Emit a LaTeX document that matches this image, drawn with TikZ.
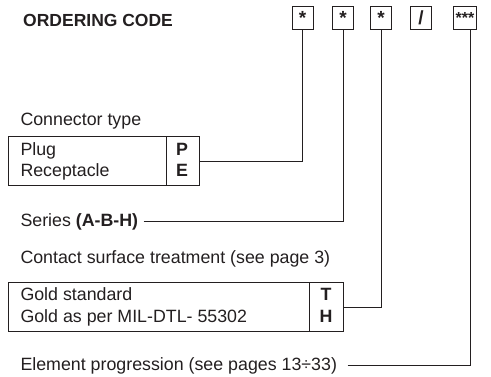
\documentclass[tikz,border=0pt]{standalone}
\usepackage{fontspec}
\setmainfont{Liberation Sans}
\usetikzlibrary{positioning}
\definecolor{ink}{HTML}{231F20}

\begin{document}
\begin{tikzpicture}[x=1pt, y=-1pt, line width=1pt, draw=ink,
		every node/.style={inner sep=0pt, text=ink},
		lbl/.style={font=\fontsize{17.8}{21}\selectfont, anchor=base west},
		key/.style={font=\bfseries\fontsize{17.8}{21}\selectfont, anchor=base},
		codebox/.style={draw=ink, minimum width=21pt, minimum height=23pt, font=\bfseries\fontsize{19}{19}\selectfont},
		tabbox/.style={draw=ink, anchor=north west, minimum height=49pt}]
			\useasboundingbox (0,0) rectangle (491,376);

			\node[lbl, font=\bfseries\fontsize{17.5}{21}\selectfont] (title) at (22.7,26) {ORDERING CODE};
			\node[codebox] (c1) at (302.5,17.5) {\raisebox{-0.3em}{*}};
			\node[codebox] (c2) at (343,17.5) {\raisebox{-0.3em}{*}};
			\node[codebox] (c3) at (381,17.5) {\raisebox{-0.3em}{*}};
			\node[codebox] (c4) at (421,17.5) {\raisebox{-0.05em}{/}};
			\node[codebox, minimum width=23pt, font=\bfseries\fontsize{16}{16}\selectfont] (c5) at (465,17.5) {\raisebox{-0.3em}{***}};
			\coordinate (c5foot) at ([xshift=5pt]c5.south);

			\node[lbl] (conntype) at (20,125) {Connector type};
			\node[tabbox, minimum width=158pt] (conntab) at (8,136) {};
			\node[tabbox, minimum width=33pt] (connkey) at (166,136) {};
			\node[lbl] (plug) at (20,155) {Plug};
			\node[lbl] (recept) at (20,176) {Receptacle};
			\node[key] (keyP) at (182,155) {P};
			\node[key] (keyE) at (182,176) {E};

			\node[lbl] (series) at (20,226) {Series \textbf{(A-B-H)}};

			\node[lbl] (contact) at (20,263) {Contact surface treatment (see page 3)};
			\node[tabbox, minimum width=301pt] (surftab) at (8,282) {};
			\node[tabbox, minimum width=34pt] (surfkey) at (309,282) {};
			\node[lbl] (gold) at (20,300.5) {Gold standard};
			\node[lbl] (goldmil) at (20,322.5) {Gold as per MIL-DTL- 55302};
			\node[key] (keyT) at (326,300.5) {T};
			\node[key] (keyH) at (326,322.5) {H};

			\node[lbl] (elemprog) at (20,370) {Element progression (see pages 13÷33)};

			\draw (connkey.east) -| (c1.south);
			\draw ([xshift=5pt]series.east) -| (c2.south);
			\draw (surfkey.east) -| (c3.south);
			\draw ([xshift=10pt]elemprog.east) -| (c5foot);
		\end{tikzpicture}
\end{document}
